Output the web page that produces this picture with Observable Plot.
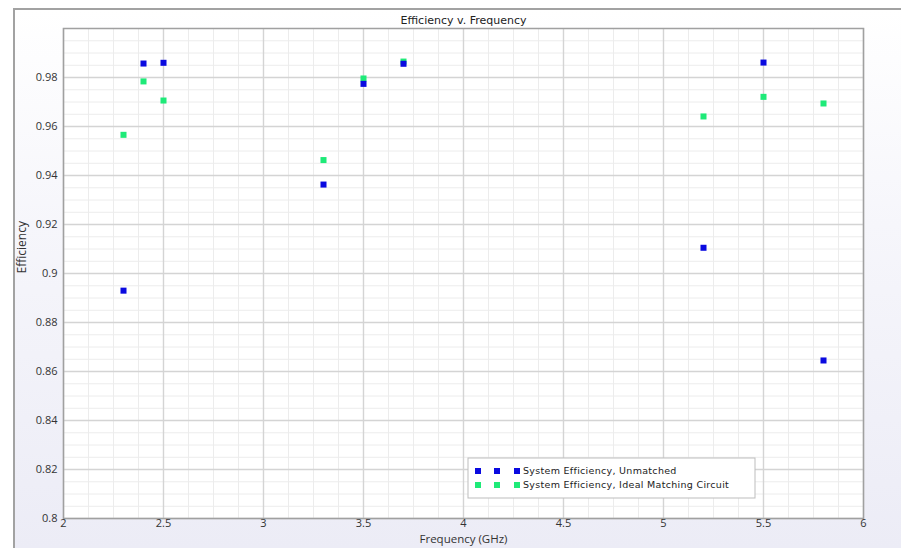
<!DOCTYPE html>
<html>
<head>
<meta charset="utf-8">
<script src="https://cdn.jsdelivr.net/npm/d3@7"></script>
<script src="https://cdn.jsdelivr.net/npm/@observablehq/plot@0.6"></script>
<style>
  html, body { margin: 0; padding: 0; background: #ffffff; }
  #wrap { position: relative; width: 901px; height: 548px; overflow: hidden; }
  #panel {
    position: absolute; left: 13px; top: 8px; right: 0; bottom: 0;
    border-left: 2px solid #a2a2a2; border-top: 2px solid #a2a2a2;
    background: linear-gradient(#ffffff 0%, #f6f6fb 40%, #ececf6 100%);
  }
  #chart { position: absolute; left: 0; top: 0; }
</style>
</head>
<body>
<div id="wrap"><div id="panel"></div><div id="chart"></div></div>
<script>
// Measured system efficiency at each test frequency
const frequencies = [2.3, 2.4, 2.5, 3.3, 3.5, 3.7, 5.2, 5.5, 5.8];
const unmatched   = [0.893, 0.9857, 0.986, 0.9363, 0.9774, 0.9856, 0.9105, 0.9861, 0.8645];
const idealMatch  = [0.9566, 0.9784, 0.9706, 0.9463, 0.9796, 0.9865, 0.9641, 0.9721, 0.9694];

const seriesNames = ["System Efficiency, Unmatched", "System Efficiency, Ideal Matching Circuit"];
const seriesColors = ["#0a0ae0", "#1eea78"];

const xTicks = [2, 2.5, 3, 3.5, 4, 4.5, 5, 5.5, 6];
const yTicks = [0.8, 0.82, 0.84, 0.86, 0.88, 0.9, 0.92, 0.94, 0.96, 0.98];
const xMinor = d3.range(0, 33).map(i => 2 + i * 0.125);
const yMinor = d3.range(0, 41).map(i => 0.8 + i * 0.005);

const fmt = d => String(+d.toFixed(3));

const rowsUnmatched = frequencies.map((f, i) => ({f, v: unmatched[i]}));
const rowsIdeal = frequencies.map((f, i) => ({f, v: idealMatch[i]}));

const chart = Plot.plot({
  width: 901,
  height: 548,
  marginLeft: 63,
  marginRight: 38,
  marginTop: 28,
  marginBottom: 30,
  style: {background: "transparent", fontFamily: "'Open Sans', sans-serif", fontSize: "11px", color: "#333"},
  x: {domain: [2, 6], label: null},
  y: {domain: [0.8, 1.0], label: null},
  marks: [
    Plot.frame({fill: "white", stroke: null}),
    Plot.ruleX(xMinor, {stroke: "#ececec", strokeWidth: 1}),
    Plot.ruleY(yMinor, {stroke: "#ececec", strokeWidth: 1}),
    Plot.ruleX(xTicks, {stroke: "#d4d4d4", strokeWidth: 1.4}),
    Plot.ruleY(yTicks, {stroke: "#d4d4d4", strokeWidth: 1.4}),
    Plot.frame({stroke: "#a0a0a0", strokeWidth: 1.5}),
    Plot.axisX({ticks: xTicks, tickFormat: fmt, tickSize: 0, tickPadding: 1, label: null, fill: "#333"}),
    Plot.axisY({ticks: yTicks, tickFormat: fmt, tickSize: 0, tickPadding: 6, label: null, fill: "#333"}),
    Plot.text(["Efficiency v. Frequency"], {frameAnchor: "top", dy: -12, fontFamily: "DejaVu Sans", fontSize: 11, fill: "#222"}),
    Plot.text(["Frequency (GHz)"], {frameAnchor: "bottom", dy: 24, fontSize: 11.5, fill: "#333"}),
    Plot.text(["Efficiency"], {frameAnchor: "left", dx: -41, rotate: -90, fontSize: 12, fill: "#333"}),
    Plot.dot(rowsIdeal, {x: "f", y: "v", symbol: "square", r: 3.4, fill: seriesColors[1], stroke: null}),
    Plot.dot(rowsUnmatched, {x: "f", y: "v", symbol: "square", r: 3.4, fill: seriesColors[0], stroke: null})
  ]
});

document.getElementById("chart").appendChild(chart);

// Legend box in the lower right of the plotting area
const svg = d3.select(chart);
const lg = svg.append("g").attr("transform", "translate(468,458)");
lg.append("rect").attr("width", 287).attr("height", 40)
  .attr("fill", "white").attr("stroke", "#bdbdbd").attr("stroke-width", 1);
seriesNames.forEach((name, i) => {
  const row = lg.append("g").attr("transform", `translate(0,${13 + i * 14})`);
  [10, 29, 49].forEach(cx => {
    row.append("rect").attr("x", cx - 3).attr("y", -3).attr("width", 6).attr("height", 6)
      .attr("fill", seriesColors[i]);
  });
  row.append("text").attr("x", 55).attr("dy", "0.35em").attr("text-anchor", "start")
    .attr("font-family", "DejaVu Sans").attr("font-size", 9.5).attr("letter-spacing", 0.3)
    .attr("fill", "#222").text(name);
});
</script>
</body>
</html>
